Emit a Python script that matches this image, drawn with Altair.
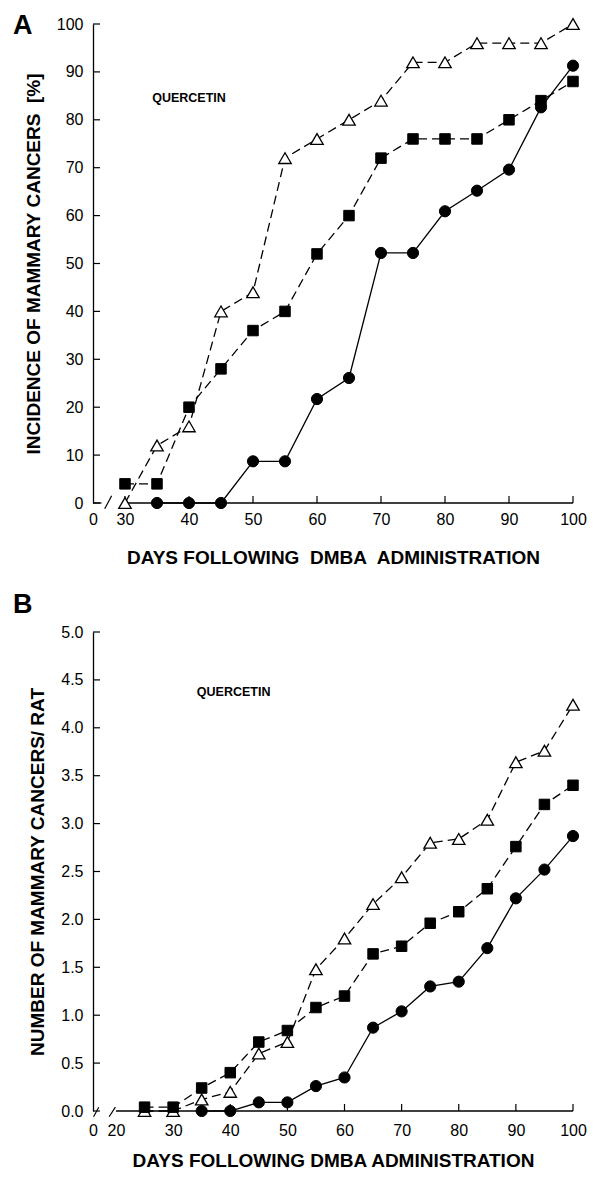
import altair as alt
import pandas as pd

FONT = "Liberation Sans"

# ---------------- Panel A: incidence of mammary cancers [%] ----------------
days_a = [30, 35, 40, 45, 50, 55, 60, 65, 70, 75, 80, 85, 90, 95, 100]
triangle_a = [0, 12, 16, 40, 44, 72, 76, 80, 84, 92, 92, 96, 96, 96, 100]
square_a = [4, 4, 20, 28, 36, 40, 52, 60, 72, 76, 76, 76, 80, 84, 88]
circle_days_a = [35, 40, 45, 50, 55, 60, 65, 70, 75, 80, 85, 90, 95, 100]
circle_a = [0, 0, 0, 8.7, 8.7, 21.7, 26.1, 52.2, 52.2, 60.9, 65.2, 69.6, 82.6, 91.3]
yticks_a = [0, 10, 20, 30, 40, 50, 60, 70, 80, 90, 100]
xticks_a = [0, 30, 40, 50, 60, 70, 80, 90, 100]

# ---------------- Panel B: number of mammary cancers / rat ----------------
days_b = [25, 30, 35, 40, 45, 50, 55, 60, 65, 70, 75, 80, 85, 90, 95, 100]
triangle_b = [0.0, 0.0, 0.12, 0.20, 0.60, 0.72, 1.48, 1.80, 2.16, 2.44, 2.80, 2.84, 3.04, 3.64, 3.76, 4.24]
square_b = [0.04, 0.04, 0.24, 0.40, 0.72, 0.84, 1.08, 1.20, 1.64, 1.72, 1.96, 2.08, 2.32, 2.76, 3.20, 3.40]
circle_days_b = [35, 40, 45, 50, 55, 60, 65, 70, 75, 80, 85, 90, 95, 100]
circle_b = [0, 0, 0.09, 0.09, 0.26, 0.35, 0.87, 1.04, 1.30, 1.35, 1.70, 2.22, 2.52, 2.87]
yticks_b = [0.0, 0.5, 1.0, 1.5, 2.0, 2.5, 3.0, 3.5, 4.0, 4.5, 5.0]
xticks_b = [0, 20, 30, 40, 50, 60, 70, 80, 90, 100]

note_text = "QUERCETIN"
xtitle_a = "DAYS FOLLOWING\u00a0 DMBA\u00a0 ADMINISTRATION"
xtitle_b = "DAYS FOLLOWING DMBA ADMINISTRATION"
ytitle_a = "INCIDENCE OF MAMMARY CANCERS\u00a0 [%]"
ytitle_b = "NUMBER OF MAMMARY CANCERS/ RAT"

W, H = 480, 479
TICK = 7


def panel(letter, letter_offset, days, tri, sq, cdays, circ, ydomain, yticks, yfmt,
          xdomain, xrange, xticks, xtick_marks, segments, slashes, note_x, note_y,
          ytitle, xtitle, x_label_pad, x_title_pad):
    xs = alt.Scale(domain=xdomain, range=xrange, nice=False, zero=False)
    ys = alt.Scale(domain=ydomain, nice=False, zero=False)
    xaxis = alt.Axis(values=xticks, format="d", ticks=False, domain=False, grid=False,
                     labelPadding=x_label_pad, labelFlush=False, labelOverlap=False,
                     title=xtitle, titlePadding=x_title_pad)
    yaxis = alt.Axis(values=yticks, format=yfmt, ticks=False, domain=True, grid=False,
                     labelPadding=10, labelFlush=False, labelOverlap=False,
                     title=ytitle, titlePadding=13)

    def X(f="day"):
        return alt.X(f"{f}:Q", scale=xs, axis=xaxis)

    def Y(f="v"):
        return alt.Y(f"{f}:Q", scale=ys, axis=yaxis)

    tri_df = pd.DataFrame({"day": days, "v": tri})
    sq_df = pd.DataFrame({"day": days, "v": sq})
    c_df = pd.DataFrame({"day": cdays, "v": circ})

    # inward tick marks
    ytk = alt.Chart(pd.DataFrame({"v": yticks})).mark_rule(color="black", strokeWidth=1.2).encode(
        y=Y(), x=alt.value(0), x2=alt.value(TICK))
    xtk = alt.Chart(pd.DataFrame({"day": xtick_marks})).mark_rule(color="black", strokeWidth=1.2).encode(
        x=X(), y=alt.value(H), y2=alt.value(H - TICK))
    # broken x-axis line
    seg_df = pd.DataFrame({"day": [s[0] for s in segments], "day2": [s[1] for s in segments],
                           "v": [ydomain[0]] * len(segments)})
    xline = alt.Chart(seg_df).mark_rule(color="black", strokeWidth=1.3).encode(
        x=X(), x2="day2:Q", y=Y())
    sl_df = pd.DataFrame({"day": [s[0] for s in slashes], "day2": [s[1] for s in slashes],
                          "v": [s[2] for s in slashes], "v2": [s[3] for s in slashes]})
    slash = alt.Chart(sl_df).mark_rule(color="black", strokeWidth=1.2).encode(
        x=X(), x2="day2:Q", y=Y(), y2="v2:Q")

    tri_line = alt.Chart(tri_df).mark_line(color="black", strokeWidth=1.3, strokeDash=[9, 5]).encode(x=X(), y=Y())
    sq_line = alt.Chart(sq_df).mark_line(color="black", strokeWidth=1.3, strokeDash=[9, 5]).encode(x=X(), y=Y())
    c_line = alt.Chart(c_df).mark_line(color="black", strokeWidth=1.3).encode(x=X(), y=Y())

    tri_pt = alt.Chart(tri_df).mark_point(shape="triangle-up", filled=True, fill="white", stroke="black",
                                          strokeWidth=1.3, size=155, opacity=1).encode(x=X(), y=Y())
    sq_pt = alt.Chart(sq_df).mark_point(shape="square", filled=True, fill="black", stroke="black",
                                        strokeWidth=1, size=110, opacity=1).encode(x=X(), y=Y())
    c_pt = alt.Chart(c_df).mark_point(shape="circle", filled=True, fill="black", stroke="black",
                                      strokeWidth=1, size=125, opacity=1).encode(x=X(), y=Y())

    note = alt.Chart(pd.DataFrame({"day": [note_x], "v": [note_y], "t": [note_text]})).mark_text(
        font=FONT, fontWeight="bold", fontSize=12.5, color="black", align="center", baseline="middle"
    ).encode(x=X(), y=Y(), text="t:N")

    return alt.layer(
        xline, slash, ytk, xtk, tri_line, tri_pt, sq_line, sq_pt, c_line, c_pt, note
    ).properties(
        width=W, height=H,
        title=alt.TitleParams(text=letter, anchor="start", frame="group", dx=-80,
                              fontSize=27, fontWeight="bold", font=FONT, color="black",
                              baseline="bottom", offset=letter_offset),
    )


panel_a = panel(
    "A", -51, days_a, triangle_a, square_a, circle_days_a, circle_a,
    [0, 100], yticks_a, "d",
    [0, 30, 100], [0, 32, W], xticks_a, [30, 40, 50, 60, 70, 80, 90, 100],
    [(0, 8), (28, 100)], [(11, 17.5, -1.2, 1.5)],
    40, 84.5, ytitle_a, xtitle_a, 8, 21,
)

panel_b = panel(
    "B", -22, days_b, triangle_b, square_b, circle_days_b, circle_b,
    [0, 5], yticks_b, ".1f",
    [0, 20, 100], [0, 23, W], xticks_b, [30, 40, 50, 60, 70, 80, 90, 100],
    [(20, 100)], [(0.5, 5, -0.06, 0.04), (14, 19.5, -0.06, 0.04)],
    40.6, 4.37, ytitle_b, xtitle_b, 11, 13,
)

chart = alt.vconcat(panel_a, panel_b, spacing=24).properties(
    padding={"left": 5, "top": 4, "right": 0, "bottom": 0}
).configure_view(stroke=None).configure_axis(
    labelFont=FONT, labelFontSize=16, labelColor="black",
    titleFont=FONT, titleFontSize=19, titleFontWeight="bold", titleColor="black",
    domainColor="black", domainWidth=1.3,
)

chart.save("out.html", embed_options={"renderer": "svg", "actions": False})
